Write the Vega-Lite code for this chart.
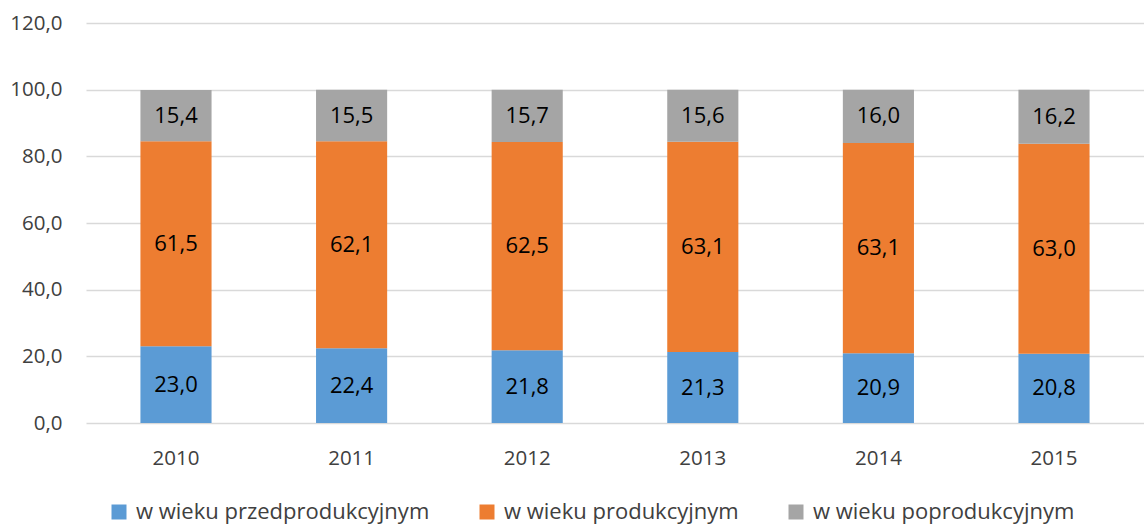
{
  "$schema": "https://vega.github.io/schema/vega-lite/v6.json",
  "width": 1058,
  "height": 400,
  "autosize": {"type": "none"},
  "padding": {"left": 86, "top": 23, "right": 0, "bottom": 103},
  "background": "white",
  "data": {"values": [
    {"rok": "2010", "grupa": "w wieku przedprodukcyjnym", "k": 1, "v": 23.0},
    {"rok": "2010", "grupa": "w wieku produkcyjnym", "k": 2, "v": 61.5},
    {"rok": "2010", "grupa": "w wieku poprodukcyjnym", "k": 3, "v": 15.4},
    {"rok": "2011", "grupa": "w wieku przedprodukcyjnym", "k": 1, "v": 22.4},
    {"rok": "2011", "grupa": "w wieku produkcyjnym", "k": 2, "v": 62.1},
    {"rok": "2011", "grupa": "w wieku poprodukcyjnym", "k": 3, "v": 15.5},
    {"rok": "2012", "grupa": "w wieku przedprodukcyjnym", "k": 1, "v": 21.8},
    {"rok": "2012", "grupa": "w wieku produkcyjnym", "k": 2, "v": 62.5},
    {"rok": "2012", "grupa": "w wieku poprodukcyjnym", "k": 3, "v": 15.7},
    {"rok": "2013", "grupa": "w wieku przedprodukcyjnym", "k": 1, "v": 21.3},
    {"rok": "2013", "grupa": "w wieku produkcyjnym", "k": 2, "v": 63.1},
    {"rok": "2013", "grupa": "w wieku poprodukcyjnym", "k": 3, "v": 15.6},
    {"rok": "2014", "grupa": "w wieku przedprodukcyjnym", "k": 1, "v": 20.9},
    {"rok": "2014", "grupa": "w wieku produkcyjnym", "k": 2, "v": 63.1},
    {"rok": "2014", "grupa": "w wieku poprodukcyjnym", "k": 3, "v": 16.0},
    {"rok": "2015", "grupa": "w wieku przedprodukcyjnym", "k": 1, "v": 20.8},
    {"rok": "2015", "grupa": "w wieku produkcyjnym", "k": 2, "v": 63.0},
    {"rok": "2015", "grupa": "w wieku poprodukcyjnym", "k": 3, "v": 16.2}
  ]},
  "transform": [
    {"stack": "v", "groupby": ["rok"], "sort": [{"field": "k", "order": "ascending"}], "as": ["y0", "y1"]},
    {"calculate": "(datum.y0 + datum.y1) / 2", "as": "ymid"},
    {"calculate": "replace(format(datum.v, '.1f'), '.', ',')", "as": "lab"}
  ],
  "encoding": {
    "x": {
      "field": "rok", "type": "nominal", "title": null,
      "scale": {"paddingInner": 0.595, "paddingOuter": 0.31},
      "axis": {"labelAngle": 0, "domain": false, "ticks": false, "labelPadding": 25, "labelFontSize": 20.5, "labelColor": "#404040", "labelFont": "Open Sans"}
    }
  },
  "layer": [
    {
      "mark": {"type": "bar"},
      "encoding": {
        "y": {
          "field": "y0", "type": "quantitative", "title": null,
          "scale": {"domain": [0, 120]},
          "axis": {"values": [0, 20, 40, 60, 80, 100, 120], "domain": false, "ticks": false, "labelPadding": 24, "labelFontSize": 20.5, "labelColor": "#404040", "labelFont": "Open Sans", "gridColor": "#D9D9D9", "gridWidth": 1.5,
            "labelExpr": "replace(format(datum.value, '.1f'), '.', ',')"}
        },
        "y2": {"field": "y1"},
        "color": {
          "field": "grupa", "type": "nominal",
          "scale": {"domain": ["w wieku przedprodukcyjnym", "w wieku produkcyjnym", "w wieku poprodukcyjnym"], "range": ["#5B9BD5", "#ED7D31", "#A5A5A5"]},
          "legend": {"orient": "none", "direction": "horizontal", "legendX": 22, "legendY": 478, "title": null, "symbolType": "square", "symbolSize": 225, "symbolStrokeWidth": 0, "labelFontSize": 22, "labelFont": "Open Sans", "labelColor": "#404040", "columnPadding": 46, "labelOffset": 6, "labelLimit": 400}
        }
      }
    },
    {
      "mark": {"type": "text", "fontSize": 22, "font": "Open Sans", "color": "#000000"},
      "encoding": {
        "y": {"field": "ymid", "type": "quantitative"},
        "text": {"field": "lab"}
      }
    }
  ],
  "config": {"view": {"stroke": null}}
}
